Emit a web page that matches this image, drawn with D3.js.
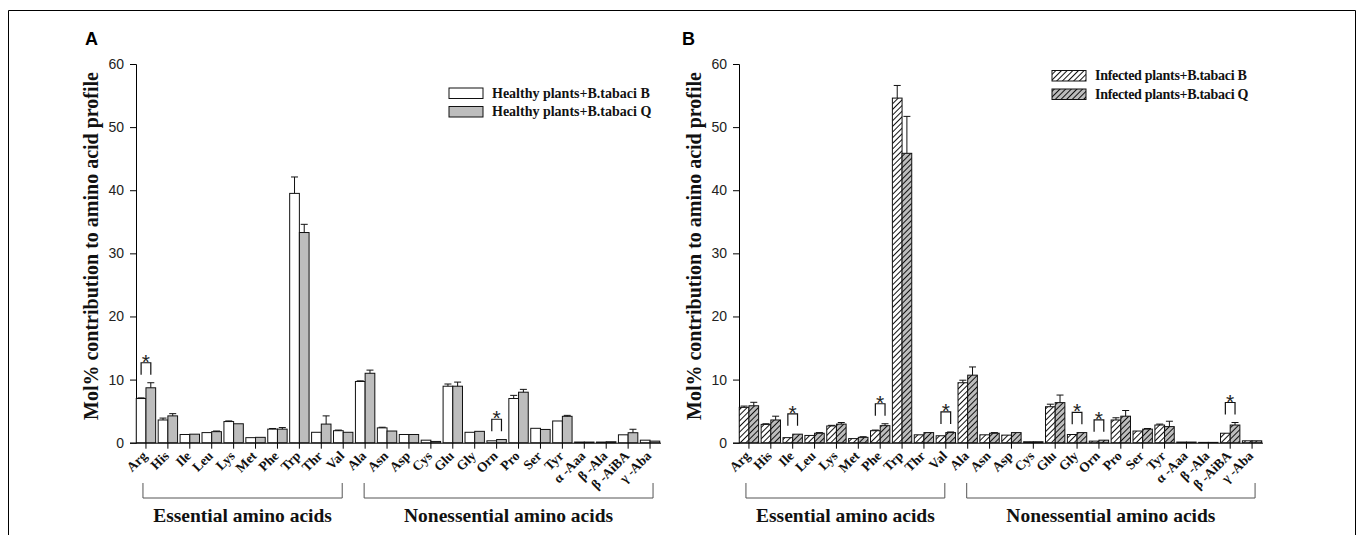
<!DOCTYPE html>
<html>
<head>
<meta charset="utf-8">
<script src="https://cdn.jsdelivr.net/npm/d3@7"></script>
<style>
	body{ margin:0; background:#fff; }
	svg{ display:block; }
</style>
</head>
<body>
<div id="chart"></div>
<script>
// -----------------------------------------------------------------
// Data (Mol% contribution to amino acid profile)
var categories = ['Arg','His','Ile','Leu','Lys','Met','Phe','Trp','Thr','Val',
	'Ala','Asn','Asp','Cys','Glu','Gly','Orn','Pro','Ser','Tyr','α -Aaa','β -Ala','β -AiBA','γ -Aba'];
var essential = categories.slice(0,10);
var nonessential = categories.slice(10);
var yTicks = [0,10,20,30,40,50,60];

var healthyB    = [7.0,3.6,1.3,1.6,3.35,0.8,2.15,39.5,1.65,1.9,9.7,2.35,1.3,0.4,8.95,1.65,0.3,7.0,2.28,3.44,0.1,0.1,1.25,0.4];
var healthyBErr = [0.1,0.3,0.05,0.05,0.1,0.05,0.1,2.6,0.05,0.1,0.1,0.1,0.05,0.05,0.35,0.05,0.05,0.5,0.05,0.05,0,0,0.05,0.05];
var healthyQ    = [8.7,4.25,1.35,1.75,3.0,0.85,2.15,33.3,2.95,1.65,11.0,1.85,1.3,0.2,8.95,1.8,0.5,8.0,2.1,4.18,0.1,0.15,1.58,0.25];
var healthyQErr = [0.8,0.35,0.05,0.1,0.05,0.05,0.25,1.3,1.3,0.05,0.5,0.05,0.05,0.05,0.65,0.05,0.05,0.45,0.05,0.15,0,0.05,0.55,0.05];

var infectedB    = [5.6,2.9,0.8,1.15,2.65,0.65,1.9,54.6,1.25,1.1,9.5,1.25,1.2,0.15,5.7,1.3,0.25,3.6,1.85,2.8,0.1,0.05,1.5,0.3];
var infectedBErr = [0.2,0.1,0.05,0.05,0.1,0.05,0.1,2.0,0.05,0.05,0.4,0.05,0.05,0,0.4,0.05,0,0.35,0.05,0.15,0,0,0.05,0];
var infectedQ    = [5.85,3.6,1.35,1.5,2.95,0.85,2.7,45.85,1.6,1.6,10.7,1.5,1.6,0.15,6.35,1.6,0.4,4.2,2.15,2.55,0.1,0.05,2.8,0.3];
var infectedQErr = [0.55,0.6,0.05,0.1,0.25,0.1,0.3,5.85,0.05,0.1,1.3,0.1,0.05,0,1.2,0.05,0.05,0.9,0.1,0.85,0,0,0.4,0];

var sigA = ['Arg','Orn'];
var sigB = ['Ile','Phe','Val','Gly','Orn','β -AiBA'];

// -----------------------------------------------------------------
var W = 1358, H = 535;
var SERIF = '"Liberation Serif","Times New Roman",serif';
var SANS = '"Liberation Sans",Arial,sans-serif';
var GRAY = '#bdbdbd';

var svg = d3.select('#chart').append('svg')
	.attr('width',W)
	.attr('height',H);

var defs = svg.append('defs');
function hatch(id, bg){
	var p = defs.append('pattern')
		.attr('id',id)
		.attr('patternUnits','userSpaceOnUse')
		.attr('width',4)
		.attr('height',4)
		.attr('patternTransform','rotate(45)');
	p.append('rect').attr('width',4).attr('height',4).attr('fill',bg);
	p.append('line')
		.attr('x1',0.5).attr('y1',0).attr('x2',0.5).attr('y2',4)
		.attr('stroke','#111').attr('stroke-width',1);
}
hatch('hatchWhite','#ffffff');
hatch('hatchGray',GRAY);

// outer frame (open at the bottom)
svg.append('path')
	.attr('d','M8.5,'+H+'V10.5H1355.5V'+H)
	.attr('fill','none')
	.attr('stroke','#000')
	.attr('stroke-width',1);

function drawPanel(opts){
	var g = svg.append('g');
	var y0 = 442.7, yTop = 64;

	var x = d3.scaleBand()
		.domain(categories)
		.range([opts.left-1, opts.right])
		.padding(0);
	var xs = d3.scaleBand()
		.domain(['B','Q'])
		.range([0, x.bandwidth()])
		.paddingOuter(0.13)
		.paddingInner(0);
	var y = d3.scaleLinear()
		.domain([0,60])
		.range([y0,yTop]);

	// Y axis
	var yAxis = g.append('g')
		.attr('transform','translate('+opts.left+',0)')
		.call(d3.axisLeft(y).tickValues(yTicks).tickSize(6).tickPadding(6));
	yAxis.select('.domain').attr('stroke','#000');
	yAxis.selectAll('.tick line').attr('stroke','#000');
	yAxis.selectAll('.tick text')
		.attr('font-family',SANS)
		.attr('font-size',14)
		.attr('fill','#222');

	// X axis (labels drawn separately, rotated)
	var xAxis = g.append('g')
		.attr('transform','translate(0,'+y0+')')
		.call(d3.axisBottom(x).tickSize(6).tickSizeOuter(0).tickFormat(''));
	xAxis.select('.domain')
		.attr('d','M'+opts.left+',0.5H'+opts.right)
		.attr('stroke','#000');
	xAxis.selectAll('.tick line').attr('stroke','#000');

	g.append('g').selectAll('g')
		.data(categories)
		.enter().append('g')
		.attr('transform',function(d){ return 'translate('+(x(d)+x.bandwidth()/2+2)+','+(y0+14)+')'; })
		.append('text')
		.attr('transform','rotate(-45)')
		.attr('text-anchor','end')
		.attr('font-family',SERIF)
		.attr('font-weight','bold')
		.attr('font-size',13.5)
		.attr('fill','#111')
		.text(function(d){ return d; });

	// Bars
	var series = [
		{key:'B', values:opts.b, errs:opts.bErr, fill:opts.fillB},
		{key:'Q', values:opts.q, errs:opts.qErr, fill:opts.fillQ}
	];
	series.forEach(function(s){
		var rows = categories.map(function(c,i){ return {cat:c, v:s.values[i], e:s.errs[i]}; });
		g.append('g').selectAll('rect')
			.data(rows)
			.enter().append('rect')
			.attr('x',function(d){ return x(d.cat)+xs(s.key); })
			.attr('y',function(d){ return y(d.v); })
			.attr('width',xs.bandwidth())
			.attr('height',function(d){ return y0-y(d.v); })
			.attr('fill',s.fill)
			.attr('stroke','#111')
			.attr('stroke-width',1);

		var eg = g.append('g').attr('stroke','#111').attr('stroke-width',1).attr('fill','none');
		eg.selectAll('path')
			.data(rows.filter(function(d){ return d.e > 0.08; }))
			.enter().append('path')
			.attr('d',function(d){
				var cx = x(d.cat)+xs(s.key)+xs.bandwidth()/2;
				var t = y(d.v+d.e);
				return 'M'+cx+','+y(d.v)+'V'+t+'M'+(cx-3.5)+','+t+'H'+(cx+3.5);
			});
	});

	// Significance brackets
	var sg = g.append('g');
	opts.sig.forEach(function(c){
		var i = categories.indexOf(c);
		var top = Math.min(y(opts.b[i]+opts.bErr[i]), y(opts.q[i]+opts.qErr[i]));
		var bottom = top-8;
		var up = bottom-12;
		var xb = x(c)+xs('B')+xs.bandwidth()/2;
		var xq = x(c)+xs('Q')+xs.bandwidth()/2;
		sg.append('path')
			.attr('d','M'+xb+','+bottom+'V'+up+'H'+xq+'V'+bottom)
			.attr('fill','none')
			.attr('stroke','#111')
			.attr('stroke-width',1.2);
		sg.append('text')
			.attr('x',(xb+xq)/2)
			.attr('y',up+6)
			.attr('text-anchor','middle')
			.attr('font-family',SANS)
			.attr('font-size',21)
			.attr('fill','#222')
			.text('*');
	});

	// Group brackets below the axis
	var groups = [
		{name:'Essential amino acids', first:essential[0], last:essential[essential.length-1], dl:-3, dr:-1},
		{name:'Nonessential amino acids', first:nonessential[0], last:nonessential[nonessential.length-1], dl:-1, dr:3}
	];
	groups.forEach(function(gr){
		var xl = x(gr.first)+x.bandwidth()/2+gr.dl;
		var xr = x(gr.last)+x.bandwidth()/2+gr.dr;
		g.append('path')
			.attr('d','M'+xl+',483V498H'+xr+'V483')
			.attr('fill','none')
			.attr('stroke','#555')
			.attr('stroke-width',1);
		g.append('text')
			.attr('x',(xl+xr)/2)
			.attr('y',522)
			.attr('text-anchor','middle')
			.attr('font-family',SERIF)
			.attr('font-weight','bold')
			.attr('font-size',19.5)
			.attr('fill','#111')
			.text(gr.name);
	});

	// Y title
	g.append('text')
		.attr('transform','translate('+(opts.left-38)+',246) rotate(-90)')
		.attr('text-anchor','middle')
		.attr('font-family',SERIF)
		.attr('font-weight','bold')
		.attr('font-size',20)
		.attr('fill','#111')
		.text('Mol% contribution to amino acid profile');

	// Panel letter
	g.append('text')
		.attr('x',opts.letterX)
		.attr('y',45)
		.attr('font-family',SANS)
		.attr('font-weight','bold')
		.attr('font-size',18)
		.attr('fill','#000')
		.text(opts.letter);

	// Legend
	var lg = g.append('g');
	opts.legend.forEach(function(l,i){
		var ly = opts.legendY + i*18.5;
		lg.append('rect')
			.attr('x',opts.legendX)
			.attr('y',ly)
			.attr('width',34)
			.attr('height',10.5)
			.attr('fill',l.fill)
			.attr('stroke','#111')
			.attr('stroke-width',1);
		lg.append('text')
			.attr('x',opts.legendX+43)
			.attr('y',ly+9.8)
			.attr('font-family',SERIF)
			.attr('font-weight','bold')
			.attr('font-size',14)
			.attr('letter-spacing',opts.legendSpacing)
			.attr('fill','#111')
			.text(l.label);
	});
}

drawPanel({
	left:136, right:661,
	b:healthyB, bErr:healthyBErr, q:healthyQ, qErr:healthyQErr,
	fillB:'#ffffff', fillQ:GRAY,
	sig:sigA,
	letter:'A', letterX:85,
	legendX:449, legendY:88, legendSpacing:0,
	legend:[
		{label:'Healthy plants+B.tabaci B', fill:'#ffffff'},
		{label:'Healthy plants+B.tabaci Q', fill:GRAY}
	]
});

drawPanel({
	left:739, right:1263,
	b:infectedB, bErr:infectedBErr, q:infectedQ, qErr:infectedQErr,
	fillB:'url(#hatchWhite)', fillQ:'url(#hatchGray)',
	sig:sigB,
	letter:'B', letterX:682,
	legendX:1052, legendY:70.5, legendSpacing:-0.3,
	legend:[
		{label:'Infected plants+B.tabaci B', fill:'url(#hatchWhite)'},
		{label:'Infected plants+B.tabaci Q', fill:'url(#hatchGray)'}
	]
});
</script>
</body>
</html>
